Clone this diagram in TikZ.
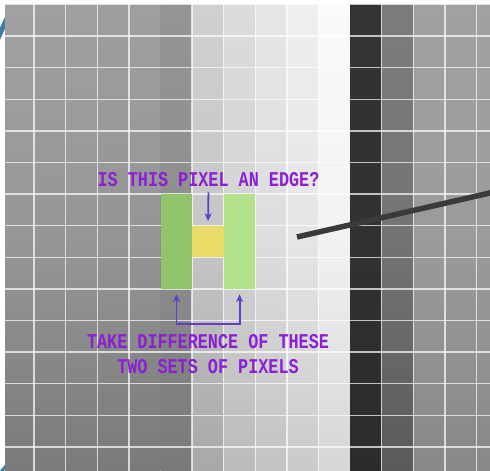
\documentclass[tikz,border=0pt]{standalone}
\usepackage{fontspec}
\newfontfamily\pixelfont{Liberation Mono}
\usetikzlibrary{positioning,calc,arrows.meta}
\definecolor{NotePurple}{RGB}{139,31,212}
\definecolor{ArrowPurple}{RGB}{96,62,204}
\definecolor{LeftGreen}{RGB}{145,196,108}
\definecolor{RightGreen}{RGB}{180,225,139}
\definecolor{TargetYellow}{RGB}{232,220,102}
\definecolor{PointerGrey}{RGB}{58,58,58}
\definecolor{LogoBlue}{RGB}{60,126,168}
\newcommand{\tallcaps}[1]{\scalebox{1}[1.25]{#1}}

\begin{document}
\begin{tikzpicture}[x=1pt,y=-1pt,>={Stealth[length=8pt,width=7pt]},
  note/.style={text=NotePurple,font=\pixelfont\bfseries\fontsize{16.8}{25}\selectfont,align=center,inner sep=1pt},
  pixelset/.style={minimum width=31.6pt,minimum height=94.8pt,inner sep=0pt,anchor=north west},
  gridline/.style={white,opacity=0.7,line width=1.4pt},
  pointer/.style={ArrowPurple,line width=1.8pt,->}]
\useasboundingbox (0,0) rectangle (490,471);
\fill[white] (0,0) rectangle (490,471);
% bits of the logo behind the grid
\draw[LogoBlue,line width=5pt] (-2,38) -- (9,14);
\draw[LogoBlue,line width=3pt] (0,473) -- (6,466);
% pixel columns, darker towards the bottom
\foreach \i/\hi/\lo in {0/A2A0A2/7A7A7A,1/9F9FA1/7B7B7B,2/A0A0A2/7B7B7B,3/9E9E9F/7A7A7A,
    4/9F9EA0/7A7A7A,5/959596/797979,6/D0D0D0/A8A8A8,7/DCDCDC/BBBBBB,8/E6E6E6/C3C3C3,
    9/EFEFEF/CACACA,10/FAFBFD/D6D6D6,11/333335/2C2C2C,12/7C7C7D/5A5A5A,13/A1A1A3/888888,
    14/A1A1A3/888888,15/A1A1A3/888888}{
  \definecolor{colhi}{HTML}{\hi}
  \definecolor{collo}{HTML}{\lo}
  \pgfmathsetmacro{\xl}{max(5,2.4+31.6*\i)}
  \shade[top color=colhi,bottom color=collo,middle color=colhi!75!collo]
    (\xl,4.4) rectangle ({2.4+31.6*(\i+1)},471);
}
\foreach \i in {1,2,3,4,6,7,8,9,10,12,13,14,15}
  \draw[gridline] ({2.4+31.6*\i},4.4) -- ({2.4+31.6*\i},471);
\foreach \j in {0,...,14}
  \draw[gridline] (5,{4.4+31.6*\j}) -- (490,{4.4+31.6*\j});

% the two sets and the pixel under test
\node[pixelset,fill=LeftGreen] (leftset) at (160.4,194) {};
\node[pixelset,fill=RightGreen] (rightset) at (223.6,194) {};
\node[pixelset,fill=TargetYellow,minimum height=31.6pt] (target) at (192,225.6) {};

\node[note] (question) at (208.5,180) {\tallcaps{IS THIS PIXEL AN EDGE?}};
\draw[pointer,shorten <=4pt,shorten >=4.5pt] (question.south) -- (target.north);

\draw[pointer,<->,shorten <=5pt,shorten >=5pt] (leftset.south)
  |- ($(leftset.south)!.5!(rightset.south)+(0,34.5)$) -| (rightset.south);
\node[note] (takediff) at (208,354.5) {\tallcaps{TAKE DIFFERENCE OF THESE}\\\tallcaps{TWO SETS OF PIXELS}};

% callout line running off to the right
\coordinate (callstart) at (297,237);
\coordinate (callend) at (492,192.5);
\draw[PointerGrey,line width=5.5pt] (callstart) -- (callend);
\end{tikzpicture}
\end{document}
